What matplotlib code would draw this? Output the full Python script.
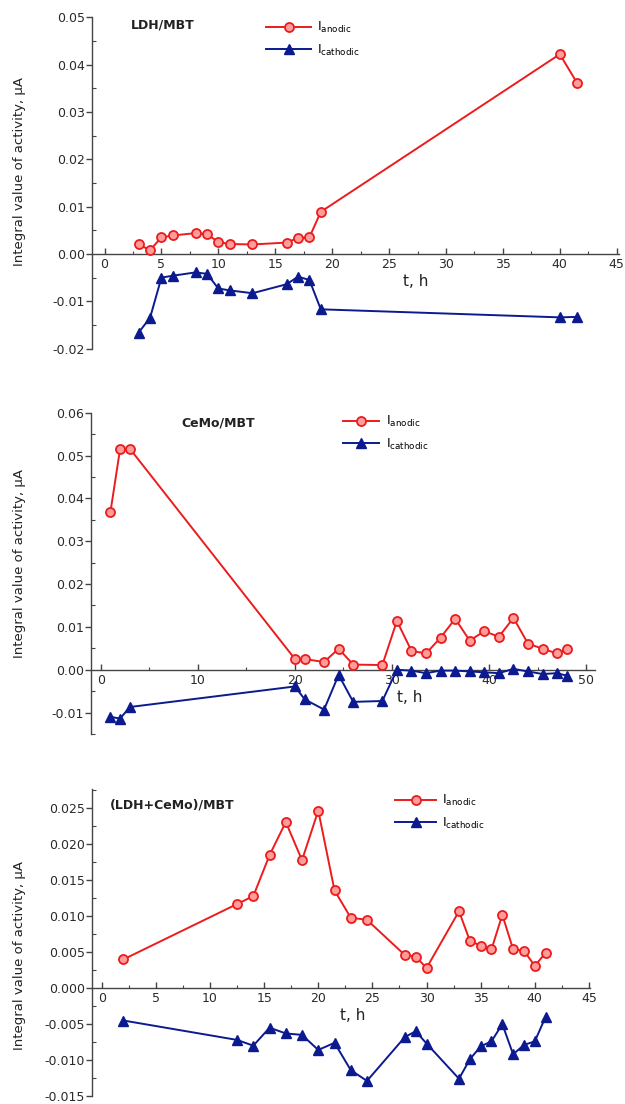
import numpy as np
import matplotlib.pyplot as plt
from matplotlib.ticker import MultipleLocator, FormatStrFormatter

plt.rcParams['axes.unicode_minus'] = False
plt.rcParams['font.family'] = 'DejaVu Sans'

W, H = 625, 1104
RED = '#ec1c1c'
NAVY = '#0b1a8e'

# LDH/MBT
t_ldh = [3, 4, 5, 6, 8, 9, 10, 11, 13, 16, 17, 18, 19, 40, 41.5]
an_ldh = [0.0020, 0.0008, 0.0035, 0.0039, 0.0044, 0.0042, 0.0025, 0.0021,
          0.0020, 0.0024, 0.0034, 0.0035, 0.0089, 0.0422, 0.0362]
ca_ldh = [-0.0166, -0.0135, -0.0050, -0.0046, -0.0039, -0.0042, -0.0073, -0.0077,
          -0.0083, -0.0064, -0.0048, -0.0055, -0.0117, -0.0134, -0.0133]

# CeMo/MBT
t_cemo = [1, 2, 3, 20, 21, 23, 24.5, 26, 29, 30.5, 32, 33.5, 35, 36.5, 38,
          39.5, 41, 42.5, 44, 45.5, 47, 48]
an_cemo = [0.0368, 0.0516, 0.0516, 0.0025, 0.0025, 0.0018, 0.0049, 0.0012,
           0.0011, 0.0114, 0.0044, 0.0038, 0.0075, 0.0119, 0.0068, 0.0090,
           0.0077, 0.0121, 0.0061, 0.0049, 0.0038, 0.0048]
ca_cemo = [-0.0110, -0.0114, -0.0087, -0.0039, -0.0069, -0.0093, -0.0012, -0.0075,
           -0.0073, 0.0000, -0.0002, -0.0008, -0.0002, -0.0002, -0.0004, -0.0006,
           -0.0008, 0.0002, -0.0004, -0.0010, -0.0008, -0.0014]

# (LDH+CeMo)/MBT
t_mix = [2, 12.5, 14, 15.5, 17, 18.5, 20, 21.5, 23, 24.5, 28, 29, 30, 33, 34,
         35, 36, 37, 38, 39, 40, 41]
an_mix = [0.0040, 0.0117, 0.0128, 0.0185, 0.0231, 0.0178, 0.0247, 0.0136,
          0.0098, 0.0095, 0.0046, 0.0044, 0.0028, 0.0107, 0.0066, 0.0059,
          0.0054, 0.0102, 0.0054, 0.0052, 0.0031, 0.0049]
ca_mix = [-0.0045, -0.0072, -0.0080, -0.0055, -0.0063, -0.0065, -0.0086, -0.0076,
          -0.0114, -0.0129, -0.0068, -0.0060, -0.0077, -0.0126, -0.0099, -0.0081,
          -0.0074, -0.0050, -0.0092, -0.0079, -0.0074, -0.0040]

fig = plt.figure(figsize=(W / 100, H / 100), dpi=100)


def rect(l, t, r, b):
    return [l / W, 1 - b / H, (r - l) / W, (b - t) / H]


def panel(box, t, an, ca, xlim, ylim, xstep, ystep, yfmt, name, name_xy,
          leg_xy, hlen, tlabel_xy, ylab_y):
    ax = fig.add_axes(rect(*box))
    ax.plot(t, an, '-o', color=RED, lw=1.4, ms=6.5, mfc='#ff9c9c', mec=RED,
            mew=1.3, label=r'I$_{\mathrm{anodic}}$', clip_on=False, zorder=3)
    ax.plot(t, ca, '-^', color=NAVY, lw=1.4, ms=7, mfc=NAVY, mec=NAVY,
            label=r'I$_{\mathrm{cathodic}}$', clip_on=False, zorder=3)
    ax.set_xlim(*xlim)
    ax.set_ylim(*ylim)
    for s in ('top', 'right'):
        ax.spines[s].set_visible(False)
    ax.spines['bottom'].set_position(('data', 0))
    for s in ('left', 'bottom'):
        ax.spines[s].set_color('#444444')
        ax.spines[s].set_linewidth(1.0)
    ax.xaxis.set_major_locator(MultipleLocator(xstep))
    ax.xaxis.set_minor_locator(MultipleLocator(xstep / 2))
    ax.yaxis.set_major_locator(MultipleLocator(ystep))
    ax.yaxis.set_minor_locator(MultipleLocator(ystep / 2))
    ax.yaxis.set_major_formatter(FormatStrFormatter(yfmt))
    ax.xaxis.set_major_formatter(FormatStrFormatter('%d'))
    ax.tick_params(axis='y', which='major', direction='out', length=4,
                   width=1, color='#444444', labelsize=9, labelcolor='#2a2a2a', pad=1)
    ax.tick_params(axis='y', which='minor', direction='in', length=3,
                   width=0.8, color='#444444')
    ax.tick_params(axis='x', which='major', direction='in', length=4,
                   width=1, color='#444444', labelsize=9, labelcolor='#2a2a2a', pad=3)
    ax.tick_params(axis='x', which='minor', direction='in', length=2.5,
                   width=0.8, color='#444444')
    ax.patch.set_alpha(0)

    fig.text(name_xy[0] / W, 1 - name_xy[1] / H, name, fontsize=9,
             fontweight='bold', ha='left', va='center', color='#222222')
    ax.legend(loc='upper left', bbox_to_anchor=(leg_xy[0] / W, 1 - leg_xy[1] / H),
              bbox_transform=fig.transFigure, frameon=False, fontsize=9,
              handlelength=hlen, handletextpad=0.5, borderpad=0,
              borderaxespad=0, labelspacing=0.6)
    fig.text(tlabel_xy[0] / W, 1 - tlabel_xy[1] / H, 't, h', fontsize=11,
             ha='center', va='center', color='#222222')
    fig.text(20 / W, 1 - ylab_y / H, 'Integral value of activity, \u03bcA',
             rotation=90, fontsize=9.5, ha='center', va='center', color='#222222')
    return ax


panel((92, 17.3, 619, 348.6), t_ldh, an_ldh, ca_ldh, (-1.1, 45.2), (-0.02, 0.05),
      5, 0.01, '%.2f', 'LDH/MBT', (131, 25), (266, 20), 3.6, (416, 282), 172)

panel((91, 412.7, 595, 734), t_cemo, an_cemo, ca_cemo, (-1.0, 50.9), (-0.015, 0.06),
      10, 0.01, '%.2f', 'CeMo/MBT', (181, 423), (343, 414), 2.9, (410, 697), 564)

panel((92, 789, 590, 1096), t_mix, an_mix, ca_mix, (-0.9, 45.1), (-0.015, 0.0277),
      5, 0.005, '%.3f', '(LDH+CeMo)/MBT', (110, 805), (395, 793), 3.3, (353, 1015), 956)

fig.savefig('out.png', dpi=100)
